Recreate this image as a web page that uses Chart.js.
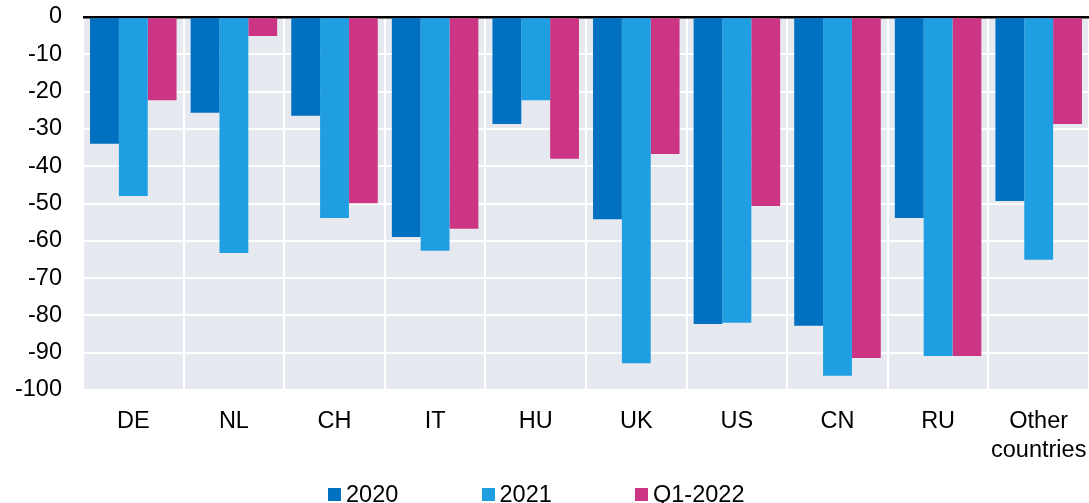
<!DOCTYPE html>
<html><head><meta charset="utf-8">
<script src="https://cdn.jsdelivr.net/npm/chart.js@4/dist/chart.umd.min.js"></script>
<style>
html,body{margin:0;padding:0;background:#fff;}
#wrap{position:relative;width:1089px;height:503px;overflow:hidden;}
#legend{position:absolute;left:328px;top:482.5px;display:flex;font-family:"Liberation Sans",Arial,sans-serif;font-size:23.5px;line-height:23px;color:#000;}
.item{width:153.5px;height:23px;display:flex;align-items:flex-start;white-space:nowrap;}
.box{width:13px;height:13px;margin-right:5px;margin-top:5.5px;flex:none;}
</style></head>
<body>
<div id="wrap"><canvas id="c" width="1089" height="503"></canvas><div id="legend"></div></div>
<script>
const categories = ['DE','NL','CH','IT','HU','UK','US','CN','RU',['Other','countries']];
const s2020 = [-34.0,-25.7,-26.5,-59.0,-28.7,-54.2,-82.3,-82.8,-53.9,-49.3];
const s2021 = [-48.0,-63.3,-53.9,-62.7,-22.3,-92.8,-82.0,-96.2,-90.9,-65.1];
const sQ1 = [-22.3,-5.1,-49.9,-56.8,-38.0,-36.7,-50.7,-91.4,-90.9,-28.7];
const seriesNames = ['2020','2021','Q1-2022'];
const yTicks = [0,-10,-20,-30,-40,-50,-60,-70,-80,-90,-100];
const colors = ['#0070c0','#1f9fe1','#cc3583'];

const font = {family:'"Liberation Sans", Arial, sans-serif', size:23.5, lineHeight:1.23};
const bgPlugin = {
  id:'bg',
  beforeDraw(chart){
    const {ctx, chartArea:a} = chart;
    ctx.save(); ctx.fillStyle='#e7e9f1';
    ctx.fillRect(a.left,a.top,a.right-a.left,a.bottom-a.top);
    ctx.restore();
  }
};
const chart = new Chart(document.getElementById('c'),{
  type:'bar',
  data:{labels:categories,datasets:[
    {label:seriesNames[0],data:s2020,backgroundColor:colors[0]},
    {label:seriesNames[1],data:s2021,backgroundColor:colors[1]},
    {label:seriesNames[2],data:sQ1,backgroundColor:colors[2]}
  ]},
  options:{
    responsive:false,animation:false,
    layout:{padding:{top:17,bottom:0,right:0,left:0}},
    datasets:{bar:{categoryPercentage:0.86,barPercentage:1.0}},
    plugins:{legend:{display:false},tooltip:{enabled:false}},
    scales:{
      x:{
        grid:{color:'#ffffff',lineWidth:2,drawTicks:false,offset:true},
        border:{display:false},
        ticks:{font,color:'#000',padding:17,maxRotation:0,autoSkip:false},
        afterFit(s){s.paddingLeft=0;s.paddingRight=0;s.height=113;}
      },
      y:{
        min:-100,max:0,
        afterBuildTicks(axis){axis.ticks = yTicks.map(v=>({value:v}));},
        grid:{color:ctx=>ctx.tick && ctx.tick.value===0?'#000':'#ffffff',lineWidth:ctx=>ctx.tick && ctx.tick.value===0?2.5:2,drawTicks:false},
        border:{display:false},
        ticks:{font,color:'#000',padding:21},
        afterFit(s){s.paddingTop=0;s.paddingBottom=0;s.width=83;}
      }
    }
  },
  plugins:[bgPlugin]
});
const lg = document.getElementById('legend');
chart.data.datasets.forEach(ds=>{
  const it=document.createElement('div');it.className='item';
  const b=document.createElement('span');b.className='box';b.style.background=ds.backgroundColor;
  const t=document.createElement('span');t.textContent=ds.label;
  it.appendChild(b);it.appendChild(t);lg.appendChild(it);
});
</script>
</body></html>
